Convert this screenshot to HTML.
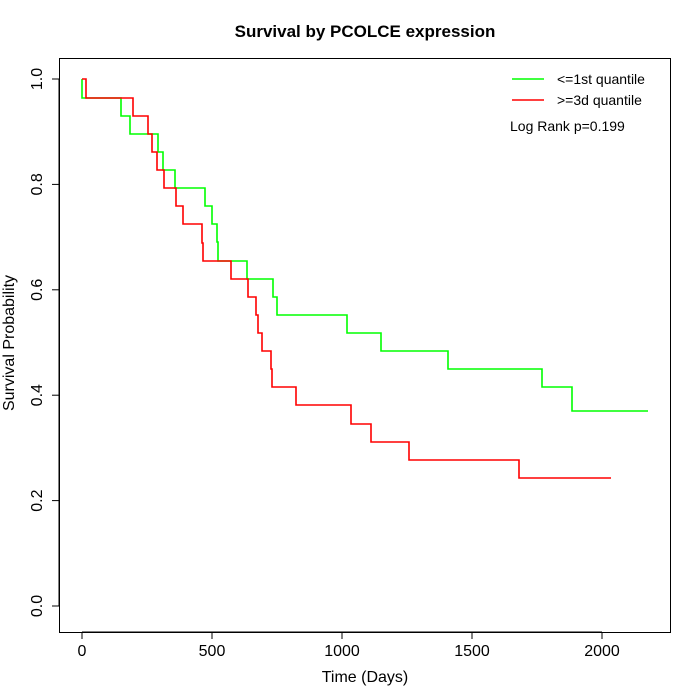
<!DOCTYPE html><html><head><style>body{margin:0;background:#fff}svg{display:block}</style></head><body>
<svg width="700" height="700" xmlns="http://www.w3.org/2000/svg" font-family="Liberation Sans, sans-serif">
<rect width="700" height="700" fill="#fff"/>
<rect x="59.5" y="58.5" width="611" height="574" fill="none" stroke="#000"/>
<text x="365" y="37" text-anchor="middle" font-size="17" font-weight="bold">Survival by PCOLCE expression</text>
<g stroke="#000">
<line x1="82" y1="632" x2="602" y2="632"/>
<line x1="82" y1="632" x2="82" y2="639"/><line x1="212" y1="632" x2="212" y2="639"/><line x1="342" y1="632" x2="342" y2="639"/><line x1="472" y1="632" x2="472" y2="639"/><line x1="602" y1="632" x2="602" y2="639"/>
<line x1="59" y1="79" x2="59" y2="606"/>
<line x1="52" y1="606" x2="59" y2="606"/><line x1="52" y1="500.6" x2="59" y2="500.6"/><line x1="52" y1="395.2" x2="59" y2="395.2"/><line x1="52" y1="289.8" x2="59" y2="289.8"/><line x1="52" y1="184.4" x2="59" y2="184.4"/><line x1="52" y1="79" x2="59" y2="79"/>
</g>
<g font-size="16" text-anchor="middle">
<text x="82" y="656">0</text><text x="212" y="656">500</text><text x="342" y="656">1000</text><text x="472" y="656">1500</text><text x="602" y="656">2000</text>
<text x="365" y="682">Time (Days)</text>
</g>
<g font-size="16" text-anchor="middle">
<text transform="translate(42,606) rotate(-90)">0.0</text>
<text transform="translate(42,500.6) rotate(-90)">0.2</text>
<text transform="translate(42,395.2) rotate(-90)">0.4</text>
<text transform="translate(42,289.8) rotate(-90)">0.6</text>
<text transform="translate(42,184.4) rotate(-90)">0.8</text>
<text transform="translate(42,79) rotate(-90)">1.0</text>
<text transform="translate(14,343) rotate(-90)">Survival Probability</text>
</g>
<path fill="none" stroke="#00ff00" stroke-width="1.6" d="M82,79V98H121V116H130V134H158V152H163V170H175V188H205V206H212V224H217V242H218V261H247V279H273V297H277V315H347V333H381V351H448V369H542V387H572V411H648"/>
<path fill="none" stroke="#ff0000" stroke-width="1.6" d="M82,79H86V98H133V116H148V134H152V152H157V170H164V188H176V206H183V224H202V243H203V261H231V279H248V297H256V315H258V333H262V351H271V369H272V387H296V405H351V424H371V442H409V460H519V478H611"/>
<line x1="512" y1="79" x2="544" y2="79" stroke="#00ff00" stroke-width="1.5"/>
<line x1="512" y1="100" x2="544" y2="100" stroke="#ff0000" stroke-width="1.5"/>
<g font-size="14">
<text x="557" y="84">&lt;=1st quantile</text>
<text x="557" y="105">&gt;=3d quantile</text>
<text x="510" y="131">Log Rank p=0.199</text>
</g>
</svg>
</body></html>
